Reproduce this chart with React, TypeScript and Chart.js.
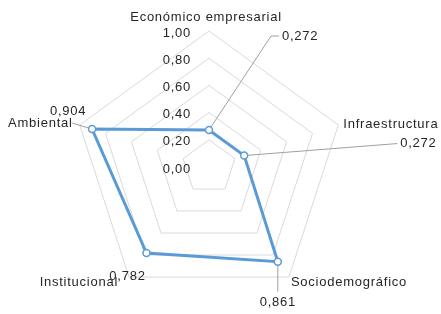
import React, { useEffect, useRef } from "react";
import { Chart, registerables } from "chart.js";

Chart.register(...registerables);

const categories = ["Económico empresarial", "Infraestructura", "Sociodemográfico", "Institucional", "Ambiental"];
const values = [0.272, 0.272, 0.861, 0.782, 0.904];
const tickValues = [0, 0.2, 0.4, 0.6, 0.8, 1.0];

const FONT = "13px 'Liberation Sans', Arial, sans-serif";
const TEXT = "#262626";
const LEADER = "#A0A0A0";
const BLUE = "#5B9BD5";

// layout offsets for category labels (relative to the 1.00 vertex)
const catLayout = [
  { dx: -3, dy: -14, align: "center" },
  { dx: 5, dy: -1, align: "left" },
  { dx: 2, dy: 5, align: "left" },
  { dx: -11, dy: 5, align: "right" },
  { dx: -7, dy: -2, align: "right" },
];
// layout for value labels (relative to data point)
const valLayout = [
  { dx: 73, dy: -94, align: "left", leader: [[62, -94], [70, -94]] },
  { dx: 156, dy: -12, align: "left", leader: [[153, -12]] },
  { dx: 0, dy: 41, align: "center", leader: [[0, 30]] },
  { dx: -19, dy: 23, align: "center", leader: null },
  { dx: -24, dy: -18, align: "center", leader: [[-20, -6]] },
];

const fmt = (v: number, d: number) => v.toFixed(d).replace(".", ",");

const labelsPlugin = {
  id: "customLabels",
  beforeDatasetsDraw(chart: any) {
    const ctx = chart.ctx;
    const meta = chart.getDatasetMeta(0);
    ctx.save();
    ctx.strokeStyle = LEADER;
    ctx.lineWidth = 1;
    meta.data.forEach((pt: any, i: number) => {
      const L = valLayout[i];
      if (!L.leader) return;
      ctx.beginPath();
      ctx.moveTo(pt.x, pt.y);
      L.leader.forEach(([dx, dy]: number[]) => ctx.lineTo(pt.x + dx, pt.y + dy));
      ctx.stroke();
    });
    ctx.restore();
  },
  afterDatasetsDraw(chart: any) {
    const ctx = chart.ctx;
    const scale = chart.scales.r;
    const meta = chart.getDatasetMeta(0);
    ctx.save();
    ctx.font = FONT;
    try { (ctx as any).letterSpacing = "0.75px"; } catch (e) {}
    ctx.fillStyle = TEXT;
    ctx.textBaseline = "middle";
    // tick labels
    ctx.textAlign = "right";
    tickValues.forEach((v) => {
      const d = scale.getDistanceFromCenterForValue(v);
      ctx.fillText(fmt(v, 2), scale.xCenter - 18, scale.yCenter - d + 2);
    });
    // category labels
    categories.forEach((c, i) => {
      const p = scale.getPointPosition(i, scale.drawingArea);
      const L = catLayout[i];
      ctx.textAlign = L.align;
      ctx.fillText(c, p.x + L.dx, p.y + L.dy);
    });
    // value labels
    meta.data.forEach((pt: any, i: number) => {
      const L = valLayout[i];
      ctx.textAlign = L.align;
      ctx.fillText(fmt(values[i], 3), pt.x + L.dx, pt.y + L.dy);
    });
    ctx.restore();
  },
};

export default function App() {
  const ref = useRef<HTMLCanvasElement>(null);
  useEffect(() => {
    document.body.style.margin = "0";
    const chart = new Chart(ref.current!, {
      type: "radar",
      data: {
        labels: categories,
        datasets: [
          {
            data: values,
            borderColor: BLUE,
            borderWidth: 3,
            backgroundColor: "transparent",
            fill: false,
            pointBackgroundColor: "#ffffff",
            pointBorderColor: BLUE,
            pointBorderWidth: 1.5,
            pointRadius: 3.5,
            tension: 0,
          },
        ],
      },
      options: {
        responsive: false,
        animation: false,
        layout: { padding: { left: 73, right: 96, top: 31, bottom: 11 } },
        plugins: { legend: { display: false }, tooltip: { enabled: false } },
        scales: {
          r: {
            min: 0,
            max: 1,
            ticks: { stepSize: 0.2, display: false, showLabelBackdrop: false },
            grid: { color: "#D9D9D9", lineWidth: 1 },
            angleLines: { display: false },
            pointLabels: { display: false },
          },
        },
      },
      plugins: [labelsPlugin],
    });
    return () => chart.destroy();
  }, []);
  return (
    <div style={{ width: 441, height: 314, overflow: "hidden", background: "#fff" }}>
      <canvas ref={ref} width={441} height={314} style={{ display: "block" }} />
    </div>
  );
}
